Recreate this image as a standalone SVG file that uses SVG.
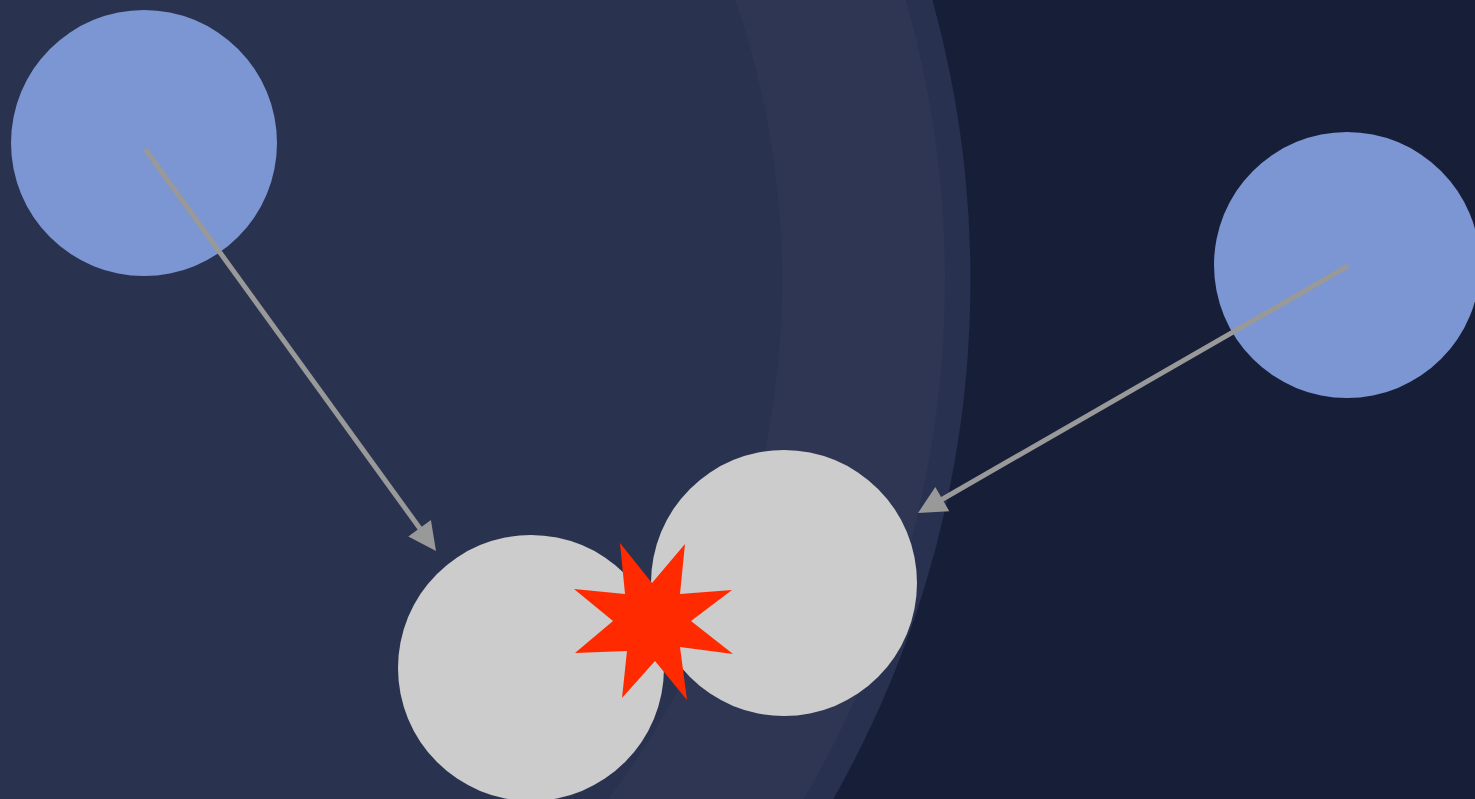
<svg xmlns="http://www.w3.org/2000/svg" width="1475" height="799" viewBox="0 0 1475 799">
<style>
.atom{fill:#7b96d2}
.hit{fill:#cccccc}
.conn{stroke:#999999;stroke-width:5;fill:none}
.head{fill:#999999}
</style>
<rect width="1475" height="799" fill="#171e38"/>
<g id="background">
<circle cx="-79.5" cy="280" r="1050" fill="#293150"/>
<circle cx="-79.5" cy="280" r="1024.5" fill="#2e3653"/>
<circle cx="-79.5" cy="280" r="861.5" fill="#29324f"/>
</g>
<g id="node-a"><circle class="atom" cx="144" cy="143" r="133"/></g>
<g id="node-b"><circle class="atom" cx="1347" cy="265" r="133"/></g>
<g id="node-c"><circle class="hit" cx="531" cy="668" r="133"/></g>
<g id="node-d"><circle class="hit" cx="784" cy="583" r="133"/></g>
<g id="connectors">
<line class="conn" x1="145" y1="149" x2="421" y2="530"/>
<polygon class="head" points="436,551 430.9,520.1 408.3,536.5"/>
<line class="conn" x1="1348" y1="266" x2="941" y2="500"/>
<polygon class="head" points="918,513 949.3,511.2 935.3,487"/>
</g>
<g id="collision">
<polygon fill="#ff2a00" points="620,543 652,583 685,544 680,594 732,590 691,621 733,654 680,647 687,700 655,661 622,698 627,651 575,653 613,621 574,589 625,594"/>
</g>
</svg>
